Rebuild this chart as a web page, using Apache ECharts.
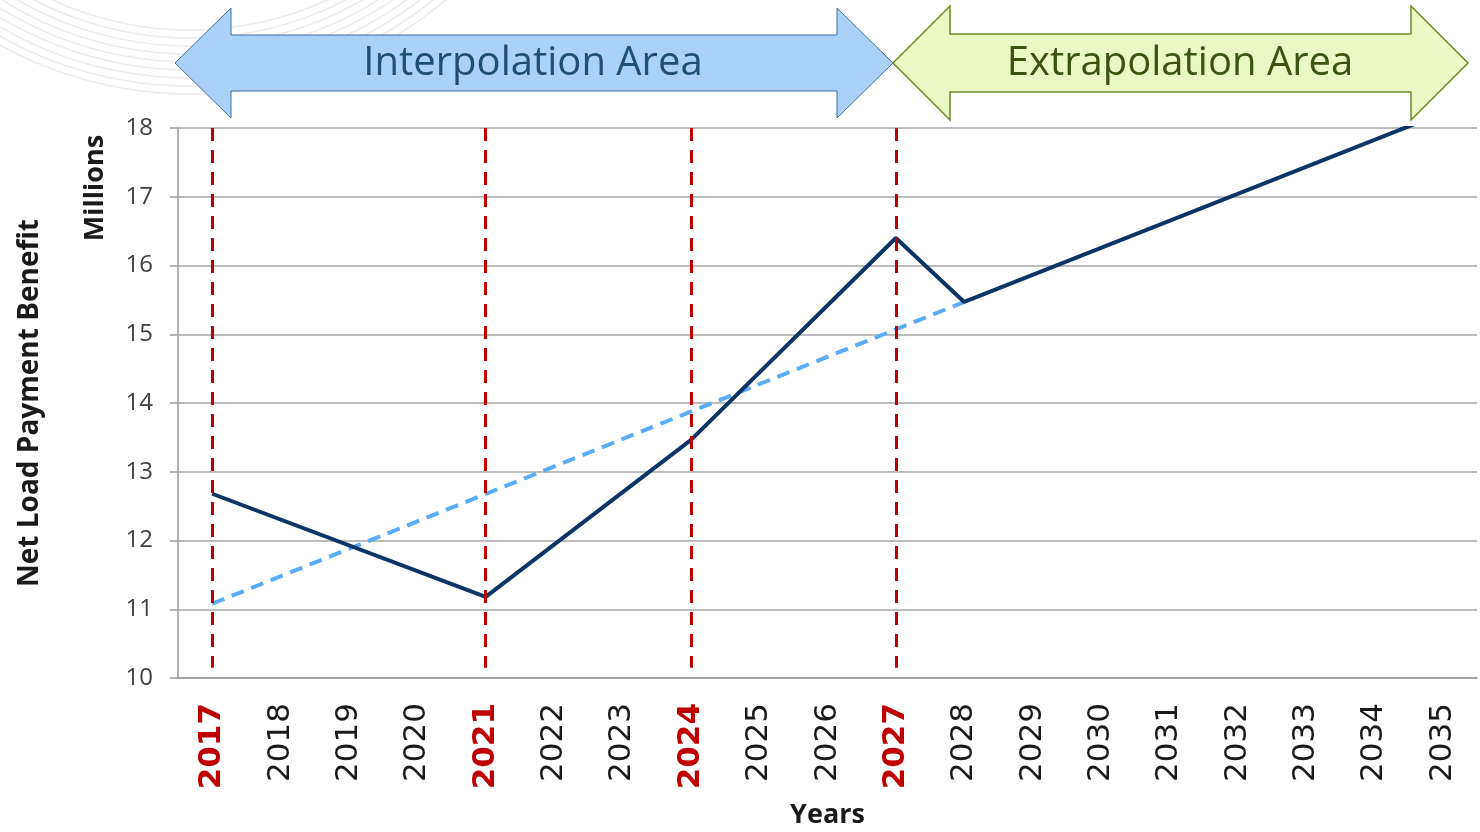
<!DOCTYPE html>
<html>
<head>
<meta charset="utf-8">
<script src="https://cdn.jsdelivr.net/npm/echarts@6/dist/echarts.min.js"></script>
<style>
html,body{margin:0;padding:0;background:#fff;}
#c{width:1480px;height:832px;}
</style>
</head>
<body>
<div id="c"></div>
<script>
// ---- data ----
const years = ['2017','2018','2019','2020','2021','2022','2023','2024','2025','2026','2027','2028','2029','2030','2031','2032','2033','2034','2035'];
const highlightYears = ['2017','2021','2024','2027'];
// Net load payment benefit (millions): anchor values
const benefit = [12.68, null, null, null, 11.18, null, null, 13.46, null, null, 16.40, 15.47, null, null, null, null, null, null, 18.22];
// straight trend line from 2017 to 2028
const trend = [11.08, null, null, null, null, null, null, null, null, null, null, 15.47, null, null, null, null, null, null, null];
const yTicks = [10, 11, 12, 13, 14, 15, 16, 17, 18];

const chart = echarts.init(document.getElementById('c'), null, {renderer:'canvas'});

// decorative faint arcs (top-left watermark)
const arcs = [];
for (let i = 0; i < 9; i++) {
  arcs.push({
    type: 'arc', silent: true, z: 0,
    shape: {cx: 190, cy: -300, r: 330 + i * 8, startAngle: Math.PI * 0.18, endAngle: Math.PI * 0.92},
    style: {stroke: '#ececec', lineWidth: 1.5, fill: null}
  });
}

function dblArrow(x0, x1, yMid, headLen, bodyHalf, headHalf) {
  return [
    [x0, yMid], [x0 + headLen, yMid - headHalf], [x0 + headLen, yMid - bodyHalf],
    [x1 - headLen, yMid - bodyHalf], [x1 - headLen, yMid - headHalf], [x1, yMid],
    [x1 - headLen, yMid + headHalf], [x1 - headLen, yMid + bodyHalf],
    [x0 + headLen, yMid + bodyHalf], [x0 + headLen, yMid + headHalf]
  ];
}

const option = {
  animation: false,
  backgroundColor: '#ffffff',
  grid: {left: 178, right: 3, top: 128, bottom: 154, containLabel: false, outerBoundsMode: 'none'},
  xAxis: {
    type: 'category',
    data: years,
    boundaryGap: true,
    name: 'Years',
    nameLocation: 'middle',
    nameGap: 124,
    nameTextStyle: {fontFamily: 'Open Sans', fontWeight: 'bold', fontSize: 27, color: '#1a1a1a'},
    axisLine: {show: true, lineStyle: {color: '#9a9a9a', width: 1.5}},
    axisTick: {show: false},
    axisLabel: {
      rotate: 90,
      margin: 25,
      interval: 0,
      formatter: v => highlightYears.includes(v) ? '{r|' + v + '}' : '{n|' + v + '}',
      rich: {
        r: {fontFamily: 'DejaVu Sans', fontWeight: 'bold', fontSize: 31, color: '#c00000'},
        n: {fontFamily: 'DejaVu Sans', fontSize: 31, color: '#1a1a1a'}
      }
    },
    splitLine: {show: false}
  },
  yAxis: {
    type: 'value',
    min: 10, max: 18, interval: 1,
    name: 'Net Load Payment Benefit',
    nameLocation: 'middle',
    nameGap: 134,
    nameRotate: 90,
    nameTextStyle: {fontFamily: 'Open Sans', fontWeight: 'bold', fontSize: 28, color: '#1a1a1a'},
    axisLine: {show: true, lineStyle: {color: '#9a9a9a', width: 1.5}},
    axisTick: {show: true, inside: false, length: 8, lineStyle: {color: '#9a9a9a', width: 1.5}},
    axisLabel: {
      margin: 25,
      fontFamily: 'Open Sans', fontSize: 24, color: '#404040',
      formatter: v => yTicks.includes(v) ? String(v) : ''
    },
    splitLine: {show: true, lineStyle: {color: '#a6a6a6', width: 1.5}}
  },
  graphic: arcs.concat([
    {
      type: 'polygon', z: 5,
      shape: {points: dblArrow(175, 893, 63, 56, 28, 55)},
      style: {fill: '#acd1f9', stroke: '#3a6ea5', lineWidth: 1}
    },
    {
      type: 'polygon', z: 5,
      shape: {points: dblArrow(893, 1468, 63, 57, 29, 57)},
      style: {fill: '#ecf7c6', stroke: '#6a8a22', lineWidth: 1.5}
    },
    {
      type: 'text', z: 6, x: 533, y: 64,
      style: {text: 'Interpolation Area', font: '40px "Open Sans"', fill: '#1f4e79', align: 'center', verticalAlign: 'middle'}
    },
    {
      type: 'text', z: 6, x: 1180, y: 64,
      style: {text: 'Extrapolation Area', font: '40px "Open Sans"', fill: '#3b5410', align: 'center', verticalAlign: 'middle'}
    },
    {
      type: 'text', z: 6, x: 95, y: 188, rotation: Math.PI / 2,
      style: {text: 'Millions', font: 'bold 27px "Open Sans"', fill: '#1a1a1a', align: 'center', verticalAlign: 'middle'}
    }
  ]),
  series: [
    {
      name: 'markers', type: 'line', data: [], z: 1,
      markLine: {
        silent: true, symbol: 'none',
        label: {show: false},
        lineStyle: {color: '#c00000', width: 3, type: [13, 9]},
        data: highlightYears.map(y => [{coord: [y, 18]}, {coord: [y, 10.15]}])
      }
    },
    {
      name: 'Trend', type: 'line', data: trend, connectNulls: true, showSymbol: false, z: 3,
      lineStyle: {color: '#5aacf6', width: 4, type: [13, 8]}
    },
    {
      name: 'Net Load Payment Benefit', type: 'line', data: benefit, connectNulls: true, showSymbol: false, z: 4,
      clip: true,
      lineStyle: {color: '#0c3566', width: 4}
    }
  ]
};
chart.setOption(option);
</script>
</body>
</html>
